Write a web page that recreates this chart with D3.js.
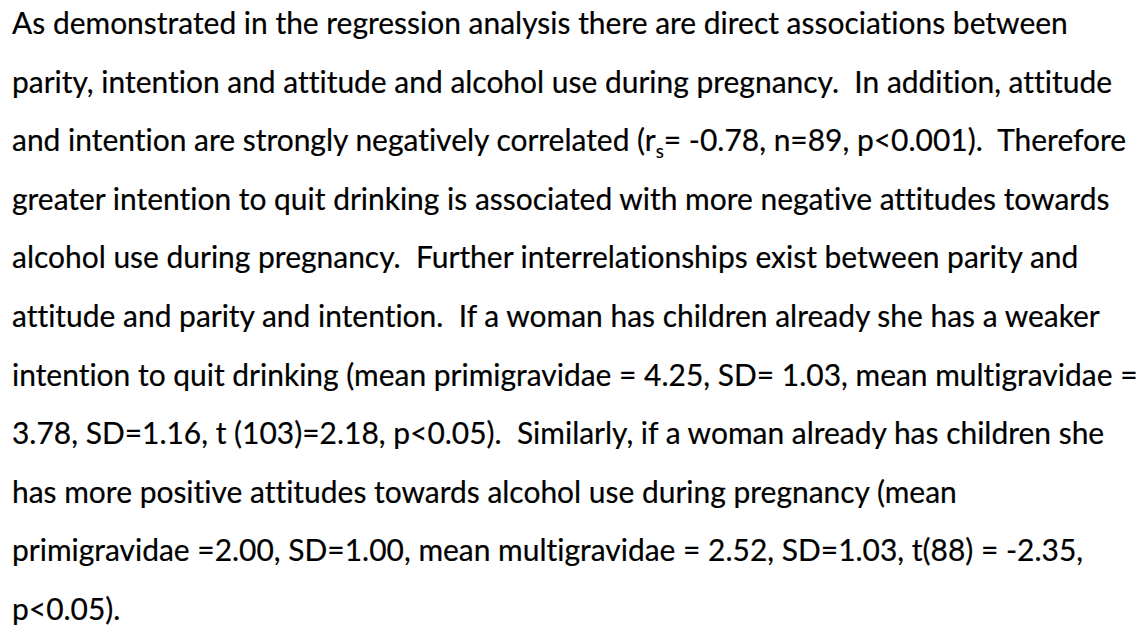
<!DOCTYPE html>
<html>
<head>
<meta charset="utf-8">
<script src="https://cdn.jsdelivr.net/npm/d3@7"></script>
<style>
  html, body { margin: 0; padding: 0; background: #fff; }
  svg { display: block; }
  text { font-variant-ligatures: none; font-feature-settings: "liga" 0, "clig" 0; }
</style>
</head>
<body>
<div id="page"></div>
<script>
// Paragraph lines as they wrap in the reference; "_s" marks the subscript s
const lines = [
  "As demonstrated in the regression analysis there are direct associations between",
  "parity, intention and attitude and alcohol use during pregnancy.  In addition, attitude",
  "and intention are strongly negatively correlated (r_s= -0.78, n=89, p<0.001).  Therefore",
  "greater intention to quit drinking is associated with more negative attitudes towards",
  "alcohol use during pregnancy.  Further interrelationships exist between parity and",
  "attitude and parity and intention.  If a woman has children already she has a weaker",
  "intention to quit drinking (mean primigravidae = 4.25, SD= 1.03, mean multigravidae =",
  "3.78, SD=1.16, t (103)=2.18, p<0.05).  Similarly, if a woman already has children she",
  "has more positive attitudes towards alcohol use during pregnancy (mean",
  "primigravidae =2.00, SD=1.00, mean multigravidae = 2.52, SD=1.03, t(88) = -2.35,",
  "p<0.05)."
];

const width = 1141;
const height = 628;
const left = 12;
const firstBaseline = 34;
const lineGap = 58.6;
const firstLineWidth = 1056; // width of line 1 in the reference

const svg = d3.select("#page")
  .append("svg")
  .attr("width", width)
  .attr("height", height);

const y = d3.scaleLinear()
  .domain([0, 1])
  .range([firstBaseline, firstBaseline + lineGap]);

const fontFamily = "Lato, 'Open Sans', sans-serif";

// Measure line 1 at a trial size and fit the font size to the reference width
const probe = svg.append("text")
  .attr("font-family", fontFamily)
  .attr("font-size", 28)
  .style("white-space", "pre")
  .text(lines[0]);
const fontSize = 28 * firstLineWidth / probe.node().getComputedTextLength();
probe.remove();

const text = svg.append("g")
  .selectAll("text")
  .data(lines)
  .join("text")
  .attr("x", left)
  .attr("y", (d, i) => y(i))
  .attr("font-family", fontFamily)
  .attr("font-size", fontSize)
  .attr("fill", "#000")
  .attr("stroke", "#000")
  .attr("stroke-width", 0.2)
  .style("white-space", "pre");

text.each(function(d) {
  const t = d3.select(this);
  const parts = d.split("_s");
  parts.forEach((p, k) => {
    if (k > 0) {
      t.append("tspan")
        .attr("dy", fontSize * 0.22)
        .attr("font-size", fontSize * 0.62)
        .text("s");
      t.append("tspan")
        .attr("dy", -fontSize * 0.22)
        .text(p);
    } else {
      t.append("tspan").text(p);
    }
  });
});
</script>
</body>
</html>
